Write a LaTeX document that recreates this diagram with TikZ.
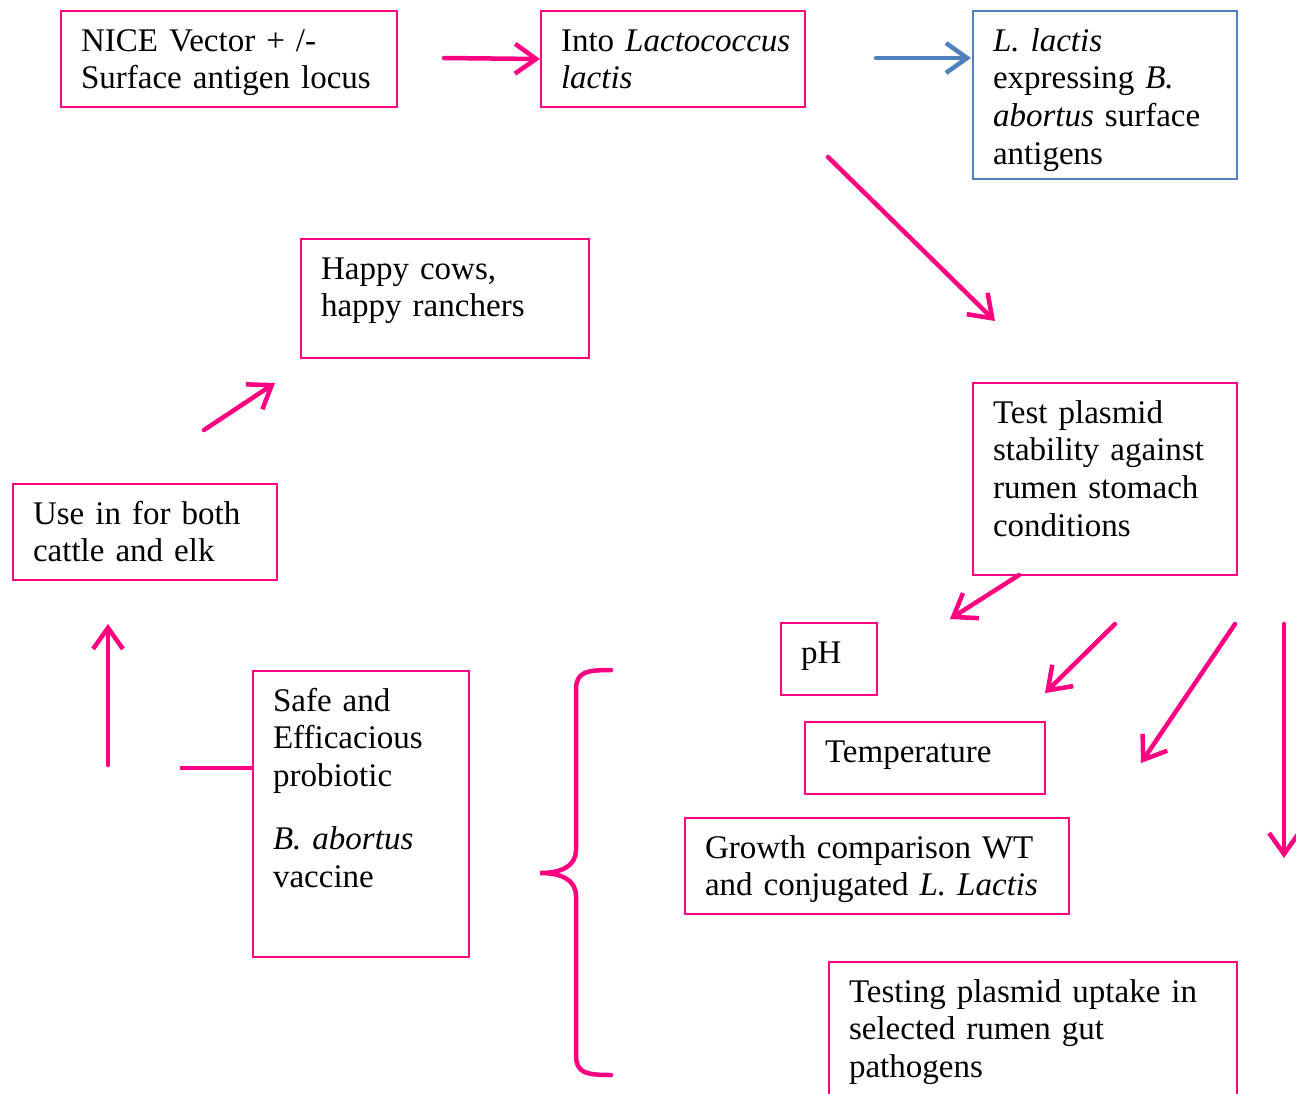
\documentclass[tikz,border=0pt]{standalone}
\usepackage{fontspec}
\setmainfont{Liberation Serif}
\usetikzlibrary{arrows.meta}
\definecolor{rosepink}{RGB}{255,0,128}
\definecolor{steelblue}{RGB}{79,129,189}
\newlength\pxu
\setlength\pxu{0.02cm}
\hyphenpenalty=10000
\tikzset{
  tbox/.style={draw=rosepink, line width=2\pxu, anchor=north west, inner xsep=20\pxu, inner ysep=0pt,
    align=left, text height=40\pxu, font=\fontsize{18.8}{21.5}\selectfont},
  arr/.style={draw=rosepink, line width=4.5\pxu, line cap=round, -{Straight Barb[length=12pt,width=17pt]}}
}
\begin{document}
\begin{tikzpicture}[x=0.02cm,y=-0.02cm]
\clip (0,0) rectangle (1296,1093);
\node[tbox, text width=296\pxu, text depth=56\pxu] (nice) at (60,10) {NICE Vector + /-\\Surface antigen locus};
\node[tbox, text width=224\pxu, text depth=56\pxu] (into) at (540,10) {\mbox{Into \textit{Lactococcus}}\\\textit{lactis}};
\node[tbox, draw=steelblue, text width=224\pxu, text depth=128\pxu] (lactis) at (972,10) {\textit{L. lactis}\\expressing \textit{B.}\\\textit{abortus} surface\\antigens};
\node[tbox, text width=248\pxu, text depth=79\pxu] (happy) at (300,238) {Happy cows,\\happy ranchers};
\node[tbox, text width=224\pxu, text depth=152\pxu] (test) at (972,382) {Test plasmid\\stability against\\rumen stomach\\conditions};
\node[tbox, text width=224\pxu, text depth=56\pxu] (use) at (12,483) {Use in for both\\cattle and elk};
\node[tbox, text width=56\pxu, text depth=32\pxu] (ph) at (780,622) {pH};
\node[tbox, text width=200\pxu, text depth=32\pxu] (temp) at (804,721) {Temperature};
\node[tbox, text width=344\pxu, text depth=56\pxu] (growth) at (684,817) {Growth comparison WT\\and conjugated \textit{L. Lactis}};
\node[tbox, text width=176\pxu, text depth=246\pxu] (safe) at (252,670) {Safe and\\Efficacious\\probiotic\\[25\pxu]\textit{B. abortus}\\vaccine};
\node[tbox, text width=368\pxu, text depth=120\pxu] (uptake) at (828,961) {Testing plasmid uptake in\\selected rumen gut\\pathogens};
\coordinate (go1) at (444,58);
\coordinate (blue1) at (876,58);
\coordinate (blue2) at (971,58);
\coordinate (diag1) at (828,157);
\coordinate (diag2) at (995,321);
\coordinate (ph1) at (1019,575);
\coordinate (ph2) at (950,619);
\coordinate (temp1) at (1115,624);
\coordinate (temp2) at (1045,693);
\coordinate (grow1) at (1235,624);
\coordinate (grow2) at (1141,763);
\coordinate (down1) at (1284,624);
\coordinate (down2) at (1284,858);
\coordinate (up1) at (108,765);
\coordinate (up2) at (108,624);
\coordinate (cow1) at (204,430);
\coordinate (cow2) at (275,383);
\coordinate (stub) at (180,768);
\draw[arr] (go1) -- (into.west);
\draw[arr, draw=steelblue] (blue1) -- (blue2);
\draw[arr] (diag1) -- (diag2);
\draw[arr] (ph1) -- (ph2);
\draw[arr] (temp1) -- (temp2);
\draw[arr] (grow1) -- (grow2);
\draw[arr] (down1) -- (down2);
\draw[arr] (up1) -- (up2);
\draw[arr] (cow1) -- (cow2);
\draw[draw=rosepink, line width=4.5\pxu] (stub) -- (safe.west |- stub);
\draw[draw=rosepink, line width=4.5\pxu, line cap=round] (611,670) .. controls (586,670) and (576,672) .. (576,690) -- (576,850) .. controls (576,867) and (560,873) .. (540,873) .. controls (560,873) and (576,879) .. (576,896) -- (576,1055) .. controls (576,1073) and (586,1075) .. (611,1075);
\end{tikzpicture}
\end{document}
